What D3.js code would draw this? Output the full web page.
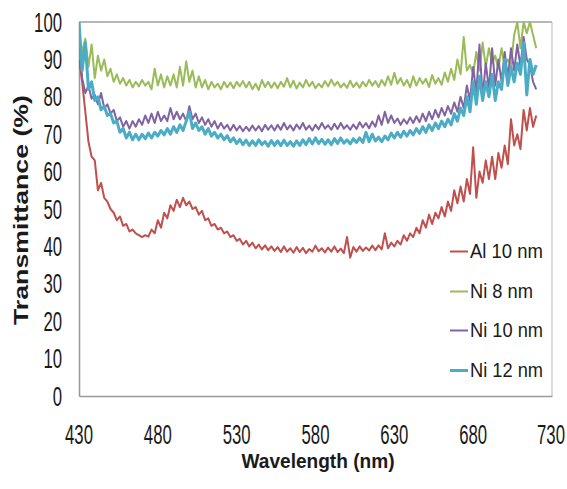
<!DOCTYPE html>
<html>
<head>
<meta charset="utf-8">
<script src="https://cdn.jsdelivr.net/npm/d3@7"></script>
<style>
  html, body { margin: 0; padding: 0; background: #fff; }
  svg { display: block; }
  text { font-family: "Liberation Sans", Arial, sans-serif; fill: #1a1a1a; }
</style>
</head>
<body>
<svg id="chart" width="567" height="489"></svg>
<script>
// Sampling grid of the spectra (nm)
const wavelengths = d3.range(430, 721, 2);

// Transmittance (%) of each film, one value per wavelength
const al10 = [
  90, 84, 76, 68, 64, 63, 55, 57, 53, 52,
  50, 49, 47, 48, 45.5, 46, 44, 44.5, 43.5, 43,
  42.5, 43, 42.6, 44.5, 43.5, 47, 45, 49, 47.5, 51,
  49.5, 52.5, 50.5, 53, 51, 52, 50, 50.5, 48.5, 49.5,
  47, 47.5, 45.5, 46, 44.5, 45, 43.5, 44, 42.5, 43,
  41.5, 42, 40.5, 41.5, 40, 41, 39.5, 40.5, 39.2, 40.3,
  39, 40, 38.8, 39.8, 38.5, 40, 38.6, 39.5, 38.3, 39.8,
  38.5, 39.6, 38.2, 39.3, 38.6, 40.2, 38.7, 39.5, 38.4, 39.7,
  38.6, 40, 38.5, 39.4, 38.2, 42.5, 37, 39.8, 38.6, 40,
  38.8, 39.7, 38.9, 40.2, 39, 40.3, 39.2, 43.5, 39.5, 41,
  40, 41.5, 40.5, 43, 41.5, 43.5, 42.5, 45, 43.5, 47,
  45, 48.5, 46, 49, 47.5, 50.5, 48, 52, 49.5, 55,
  51.5, 56, 52, 58, 54, 66.5, 53, 60, 57, 63,
  58, 64, 58, 65, 61, 67, 62, 74, 67, 70,
  66, 76.5, 71, 77, 72, 75
];
const ni8 = [
  97, 92, 95.5, 88, 94, 85, 91, 87, 90, 85.5,
  87.5, 84, 86, 83.5, 85, 83, 84.5, 82.5, 84, 82.8,
  84.5, 83, 84, 82, 87.5, 83, 86, 82.5, 85.5, 83,
  86, 82.5, 88, 83, 89.5, 84, 87, 82.5, 85.5, 82.5,
  84.5, 82, 84, 82.5, 83.5, 82, 84, 82.5, 83.8, 82.3,
  84, 82.8, 84.2, 82.5, 84, 82, 83.5, 81.8, 84.5, 82.6,
  84, 82.4, 83.8, 82.3, 84, 82.7, 85, 82.5, 84.3, 82.2,
  83.8, 82.5, 84.5, 82.8, 84, 82.3, 83.5, 82.5, 84.2, 82.8,
  84.6, 83, 84, 82.5, 83.6, 82.4, 84.3, 82.6, 83.8, 82.4,
  84, 82.8, 84.5, 83, 84.2, 82.6, 84.5, 83, 85.5, 83.2,
  86.4, 83.5, 85, 83, 84.5, 82.5, 85.5, 83, 85, 83.5,
  84.8, 82.6, 85.8, 83.5, 85, 83.2, 86.5, 84, 87.5, 84.5,
  90, 86, 96, 87, 88.5, 86, 92, 87, 94.5, 88,
  93, 89, 91, 87.5, 93, 88, 90, 88.5, 96.5, 100,
  93, 100, 97, 100, 96.5, 93
];
const ni10 = [
  96, 85, 81, 83, 79.5, 80.5, 78, 81, 77, 78,
  75.5, 76.5, 73.5, 74.5, 72, 73.5, 71.5, 73.5, 72, 74,
  72.5, 75, 73, 75.5, 73, 76, 73.5, 75, 73.5, 77,
  74, 76, 74, 75.5, 73.5, 77.5, 74, 75.5, 73, 74.5,
  72.5, 74, 72, 73.5, 71.5, 73, 71.5, 72.5, 71, 72.5,
  71, 72.2, 70.8, 72, 70.9, 72.3, 71, 72.2, 70.8, 72.5,
  71.2, 72.4, 71, 72.5, 71.2, 73, 71.3, 72.4, 71, 72.6,
  71.4, 73, 71.2, 72.3, 71, 72.5, 71.3, 73, 71.5, 72.4,
  71.2, 72.8, 71.4, 73, 71.5, 72.4, 71.2, 72.6, 71.4, 73.2,
  71.8, 73, 71.6, 73.4, 72, 75, 72.5, 76, 73, 75,
  73, 74.2, 72.5, 74, 72.8, 74.5, 73, 74.8, 73.2, 75.5,
  73.5, 76, 74, 76.5, 74.5, 77, 75, 77.5, 75.5, 78.5,
  76, 80, 77, 83, 79, 88, 81, 94, 80, 89,
  82, 93, 83, 90, 84, 92, 85, 93, 87, 94,
  88, 96, 90, 88.5, 84, 82
];
const ni12 = [
  100, 87, 94.5, 82, 84, 79, 80, 76.5, 77.5, 75,
  75.5, 73, 73.5, 70.5, 71.5, 69, 70.5, 68.5, 70, 68.5,
  70, 68.8, 70.3, 69, 70.5, 69.5, 71, 69.8, 71.5, 70,
  72, 70.5, 72.5, 71, 73.5, 76, 71.5, 73, 71, 72,
  70, 71.5, 69.5, 70.5, 69, 70, 68.5, 69.6, 68, 69,
  67.5, 68.6, 67.2, 68.4, 67, 68.2, 67, 68.5, 67.2, 68,
  66.8, 68.3, 67, 68.2, 66.9, 68.4, 67, 68, 66.8, 68.2,
  67, 68.5, 67.2, 68.8, 67.4, 69, 67.5, 68.6, 67.3, 68.5,
  67.2, 68.8, 67.5, 69, 67.6, 68.5, 67.4, 68.8, 67.8, 69,
  67.8, 70.5, 68, 70, 68.2, 69.2, 68, 69.5, 68.5, 70.3,
  69, 70.5, 69.2, 70.8, 69.5, 71, 69.8, 71.5, 70.2, 72,
  70.5, 72.5, 71, 73, 71.5, 73.5, 72, 74, 72.5, 75.5,
  73.5, 77, 75, 80, 76, 84, 78, 85.5, 79, 84,
  80, 86, 79, 84, 82, 90, 83, 88, 84, 89,
  86, 94.5, 80.5, 90, 86, 88.5
];

const seriesNames = ["Al 10 nm", "Ni 8 nm", "Ni 10 nm", "Ni 12 nm"];
const seriesValues = [al10, ni8, ni10, ni12];
const seriesColors = ["#C0504D", "#9BBB59", "#8064A2", "#4BACC6"];
const seriesWidths = [2, 2, 2, 3];

const xTicks = [430, 480, 530, 580, 630, 680, 730];
const yTicks = [0, 10, 20, 30, 40, 50, 60, 70, 80, 90, 100];

const svg = d3.select("#chart");
const plot = { left: 79, right: 552, top: 22, bottom: 396 };

const x = d3.scaleLinear().domain([430, 730]).range([plot.left, plot.right]);
const y = d3.scaleLinear().domain([0, 100]).range([plot.bottom, plot.top]);

svg.append("defs").append("clipPath").attr("id", "plotClip")
  .append("rect")
  .attr("x", plot.left).attr("y", plot.top - 1)
  .attr("width", plot.right - plot.left).attr("height", plot.bottom - plot.top + 1);

// Plot frame
svg.append("line").attr("x1", plot.left).attr("x2", plot.right)
  .attr("y1", plot.top).attr("y2", plot.top)
  .attr("stroke", "#6e6e6e").attr("stroke-width", 1.2);
svg.append("line").attr("x1", plot.right).attr("x2", plot.right)
  .attr("y1", plot.top).attr("y2", plot.bottom)
  .attr("stroke", "#c4c4c4").attr("stroke-width", 1.2);

// Axes (lines only, labels drawn separately as tall narrow text)
const xAxis = svg.append("g")
  .attr("transform", `translate(0,${plot.bottom})`)
  .call(d3.axisBottom(x).tickValues(xTicks).tickSize(0).tickFormat(""));
const yAxis = svg.append("g")
  .attr("transform", `translate(${plot.left},0)`)
  .call(d3.axisLeft(y).tickValues(yTicks).tickSize(0).tickFormat(""));
[xAxis, yAxis].forEach(a => a.select(".domain").attr("stroke", "#9a9a9a").attr("stroke-width", 1.6));

// Tick labels: tall, narrow digits
function tallText(g, str, px, py, anchor) {
  return g.append("text")
    .attr("transform", `translate(${px},${py}) scale(0.93,1.55)`)
    .attr("font-size", 18)
    .attr("text-anchor", anchor)
    .text(str);
}

const labels = svg.append("g");
yTicks.forEach(v => tallText(labels, String(v), 62, y(v) + 9.5, "end"));
xTicks.forEach(v => tallText(labels, String(v), x(v) - (v === 730 ? 1 : 0), 444, "middle"));

// Axis titles
svg.append("text")
  .attr("x", 318).attr("y", 468)
  .attr("font-size", 20).attr("font-weight", "bold")
  .attr("text-anchor", "middle")
  .attr("textLength", 153).attr("lengthAdjust", "spacingAndGlyphs")
  .text("Wavelength (nm)");
svg.append("text")
  .attr("transform", "translate(28,210) rotate(-90)")
  .attr("font-size", 21).attr("font-weight", "bold")
  .attr("text-anchor", "middle")
  .attr("textLength", 230).attr("lengthAdjust", "spacingAndGlyphs")
  .text("Transmittance (%)");

// Spectra
const line = d3.line()
  .x((d, i) => x(wavelengths[i]))
  .y(d => y(d));

const lines = svg.append("g").attr("clip-path", "url(#plotClip)");
seriesValues.forEach((vals, k) => {
  lines.append("path")
    .datum(vals)
    .attr("d", line)
    .attr("fill", "none")
    .attr("stroke", seriesColors[k])
    .attr("stroke-width", seriesWidths[k])
    .attr("stroke-linejoin", "round");
});

// Legend
const legend = svg.append("g");
legend.append("rect")
  .attr("x", 446).attr("y", 233).attr("width", 104).attr("height", 160)
  .attr("fill", "#fff");
const legendBase = [258, 298, 337, 377];
const legendWidths = [73, 63, 73, 73];
seriesNames.forEach((name, k) => {
  legend.append("line")
    .attr("x1", 450).attr("x2", 468)
    .attr("y1", legendBase[k] - 6.5).attr("y2", legendBase[k] - 6.5)
    .attr("stroke", seriesColors[k]).attr("stroke-width", seriesWidths[k]);
  legend.append("text")
    .attr("x", 470).attr("y", legendBase[k])
    .attr("font-size", 21)
    .attr("textLength", legendWidths[k]).attr("lengthAdjust", "spacingAndGlyphs")
    .text(name);
});
</script>
</body>
</html>
